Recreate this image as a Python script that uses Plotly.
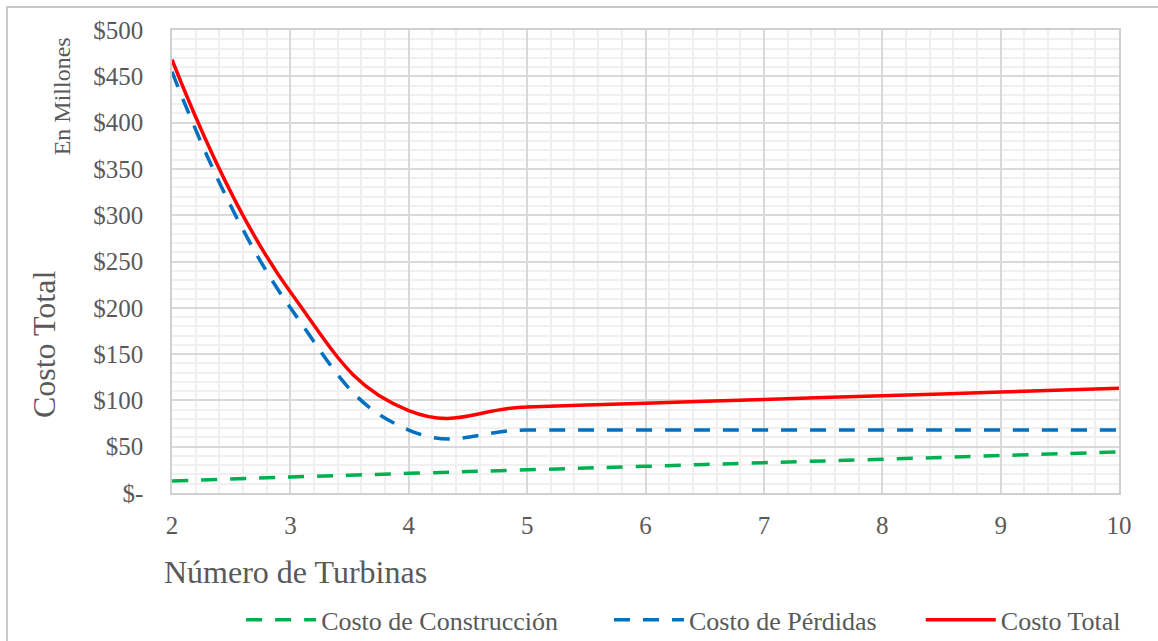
import plotly.graph_objects as go

turbinas = [2, 3, 4, 5, 6, 7, 8, 9, 10]
costo_construccion = [13, 17.3, 21.2, 25.0, 28.8, 32.7, 36.5, 40.4, 44.3]
costo_perdidas = [455, 200, 68, 68, 68, 68, 68, 68, 68]
costo_total = [468, 217, 89, 93, 97, 101, 105, 109, 113]

y_tickvals = [0, 50, 100, 150, 200, 250, 300, 350, 400, 450, 500]
y_ticktext = ["$-", "$50", "$100", "$150", "$200", "$250", "$300", "$350", "$400", "$450", "$500"]
x_tickvals = [2, 3, 4, 5, 6, 7, 8, 9, 10]

FONT = "Liberation Serif, Times New Roman, serif"
GRAY = "#595959"

fig = go.Figure()
fig.add_trace(go.Scatter(
    x=turbinas, y=costo_construccion, mode="lines", name="Costo de Construcción",
    line=dict(color="#00B050", width=3.5, dash="16px,13px", shape="spline", smoothing=1.3),
    legend="legend",
))
fig.add_trace(go.Scatter(
    x=turbinas, y=costo_perdidas, mode="lines", name="Costo de Pérdidas",
    line=dict(color="#0070C0", width=3.5, dash="16px,13px", shape="spline", smoothing=1.3),
    legend="legend2",
))
fig.add_trace(go.Scatter(
    x=turbinas, y=costo_total, mode="lines", name="Costo Total",
    line=dict(color="#FF0000", width=3.5, shape="spline", smoothing=1.3),
    legend="legend3",
))

def leg(xpos):
    return dict(
        orientation="h", x=xpos, xanchor="left", y=-0.274, yanchor="middle",
        font=dict(family=FONT, size=26, color=GRAY),
        itemwidth=70, bgcolor="rgba(0,0,0,0)",
    )

fig.update_layout(
    width=1158, height=641,
    margin=dict(l=172, r=39, t=30, b=148, autoexpand=False),
    paper_bgcolor="white", plot_bgcolor="white",
    font=dict(family=FONT, color=GRAY, size=25),
    showlegend=True,
    legend=leg(0.073),
    legend2=leg(0.4614),
    legend3=leg(0.7907),
    xaxis=dict(
        range=[2, 10], tickvals=x_tickvals, ticks="", ticklabelstandoff=9,
        showgrid=True, gridcolor="#d9d9d9", gridwidth=1.5,
        minor=dict(dtick=0.2, showgrid=True, gridcolor="#f0f0f0", gridwidth=1.5),
        showline=True, mirror=True, linecolor="#d0d0d0", linewidth=1.5,
        zeroline=False, tickfont=dict(family=FONT, size=25, color=GRAY),
    ),
    yaxis=dict(
        range=[0, 500], tickvals=y_tickvals, ticktext=y_ticktext, ticks="",
        ticklabelstandoff=22,
        showgrid=True, gridcolor="#d9d9d9", gridwidth=1.5,
        minor=dict(dtick=10, showgrid=True, gridcolor="#f0f0f0", gridwidth=1.5),
        showline=True, mirror=True, linecolor="#d0d0d0", linewidth=1.5,
        zeroline=False, tickfont=dict(family=FONT, size=25, color=GRAY),
    ),
    annotations=[
        dict(text="Número de Turbinas", xref="paper", yref="paper", x=-0.0105, y=-0.171,
             xanchor="left", yanchor="middle", showarrow=False,
             font=dict(family=FONT, size=32, color=GRAY)),
        dict(text="Costo Total", xref="paper", yref="paper", x=-0.135, y=0.322,
             xanchor="center", yanchor="middle", textangle=-90, showarrow=False,
             font=dict(family=FONT, size=32, color=GRAY)),
        dict(text="En Millones", xref="paper", yref="paper", x=-0.116, y=0.857,
             xanchor="center", yanchor="middle", textangle=-90, showarrow=False,
             font=dict(family=FONT, size=24, color=GRAY)),
    ],
    shapes=[
        dict(type="rect", xref="paper", yref="paper", x0=-0.1742, x1=1.06, y0=-0.4, y1=1.0497,
             line=dict(color="#c8c8c8", width=2), fillcolor="rgba(0,0,0,0)", layer="below"),
    ],
)

fig.write_html(
    "out.html",
    config={"displayModeBar": False},
    post_script="document.body.style.margin='0';document.body.style.padding='0';",
)
